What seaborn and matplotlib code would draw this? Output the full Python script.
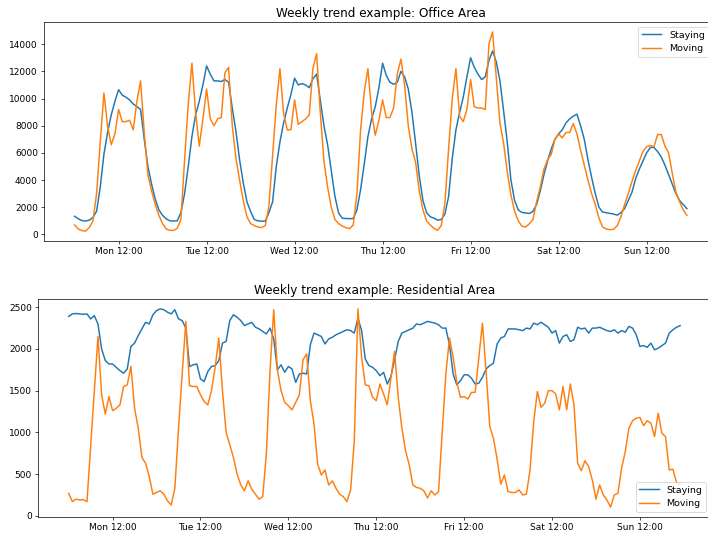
import pandas as pd
import matplotlib.pyplot as plt
import matplotlib.dates as mdates
import seaborn as sns

# hourly values, Mon 00:00 -> Sun 23:00
office_staying = [
    1340, 1150, 1020, 990, 1050, 1250, 1700, 3500, 5900, 7500, 8800, 9800, 10650, 10250, 10100, 9900, 9600, 9400, 9200, 7000, 5000, 3700, 2600, 1800,
    1400, 1150, 1000, 990, 1000, 1600, 3000, 5000, 7200, 8800, 9800, 11000, 12400, 11800, 11300, 11300, 11250, 11400, 11200, 9300, 7600, 5500, 3800, 2400,
    1700, 1100, 1000, 980, 980, 1600, 2400, 5000, 6800, 8200, 9300, 10300, 11500, 11000, 11100, 11000, 10800, 11450, 11800, 9900, 8000, 6600, 4700, 2800,
    1580, 1200, 1170, 1160, 1170, 1800, 3300, 5200, 7200, 8500, 9400, 10800, 12600, 11700, 11200, 11050, 11200, 12000, 11600, 10700, 9000, 6700, 4300, 2500,
    1600, 1300, 1200, 1050, 1100, 1500, 2800, 5600, 7700, 8970, 10100, 11600, 13000, 12300, 11800, 11400, 11600, 12800, 13500, 12700, 11300, 9100, 6800, 4000,
    2500, 1800, 1620, 1580, 1540, 1700, 2200, 3200, 4400, 5400, 6300, 7000, 7400, 7700, 8200, 8500, 8700, 8850, 8000, 7000, 5500, 4200, 3000, 2000,
    1650, 1600, 1550, 1500, 1420, 1600, 1900, 2500, 3100, 4100, 4800, 5400, 6000, 6400, 6400, 6100, 5700, 5100, 4400, 3700, 3000, 2500, 2200, 1900,
]
office_moving = [
    700, 400, 280, 250, 500, 1000, 3000, 6800, 10400, 8000, 6600, 7400, 9200, 8300, 8300, 8400, 7700, 9800, 11300, 7500, 4400, 3200, 2200, 1400,
    800, 400, 300, 300, 450, 1100, 5500, 9600, 12600, 9000, 6500, 8500, 10700, 8500, 8000, 8500, 8600, 11900, 12300, 8000, 5600, 4000, 2500, 1300,
    800, 650, 550, 500, 650, 2100, 5800, 9500, 12200, 8900, 7700, 7700, 9900, 8100, 8300, 8500, 8800, 12200, 13300, 9000, 5400, 3500, 2000, 1100,
    800, 620, 500, 420, 700, 3000, 7700, 10500, 12200, 9000, 7300, 8400, 9900, 8600, 8600, 9300, 11800, 12900, 11000, 8000, 6300, 5300, 3200, 1800,
    1000, 700, 450, 300, 650, 2300, 6300, 10000, 12200, 8700, 8300, 9200, 11400, 9400, 9300, 9300, 9200, 14000, 14900, 11500, 8200, 6700, 4600, 2900,
    1700, 1000, 600, 550, 780, 1100, 2400, 3500, 4800, 5500, 5900, 7000, 7400, 7100, 7500, 7500, 8150, 7400, 6200, 5100, 4000, 3000, 2200, 1200,
    550, 400, 350, 380, 650, 1300, 2200, 3000, 3900, 4700, 5400, 6100, 6450, 6550, 6450, 7350, 7350, 6500, 6000, 4500, 3100, 2400, 1800, 1400,
]
res_staying = [
    2390, 2420, 2425, 2420, 2415, 2420, 2360, 2400, 2300, 2000, 1860, 1820, 1820, 1780, 1740, 1710, 1760, 2030, 2070, 2160, 2240, 2320, 2300, 2410,
    2460, 2480, 2470, 2440, 2420, 2470, 2360, 2340, 2250, 1790, 1810, 1820, 1640, 1610, 1730, 1790, 1800, 1860, 2070, 2090, 2340, 2410, 2380, 2340,
    2280, 2300, 2320, 2260, 2240, 2210, 2180, 2250, 2120, 1750, 1810, 1720, 1790, 1760, 1600, 1700, 1710, 1700, 2050, 2190, 2170, 2150, 2060, 2120,
    2140, 2170, 2190, 2210, 2230, 2220, 2190, 2370, 2220, 1880, 1800, 1780, 1740, 1680, 1720, 1580, 1670, 1870, 2090, 2190, 2210, 2230, 2250, 2300,
    2290, 2310, 2330, 2320, 2310, 2290, 2250, 2250, 2050, 1700, 1570, 1620, 1690, 1690, 1650, 1580, 1590, 1660, 1760, 1800, 1830, 2060, 2130, 2150,
    2240, 2240, 2240, 2230, 2220, 2250, 2240, 2310, 2290, 2320, 2290, 2260, 2190, 2220, 2070, 2150, 2170, 2090, 2110, 2260, 2240, 2250, 2190, 2250,
    2250, 2260, 2240, 2220, 2210, 2230, 2190, 2220, 2200, 2270, 2250, 2170, 2030, 2040, 2020, 2070, 1990, 2010, 2040, 2070, 2190, 2230, 2260, 2280,
]
res_moving = [
    270, 170, 200, 190, 195, 170, 830, 1490, 2150, 1450, 1220, 1430, 1260, 1290, 1330, 1550, 1570, 1790, 1290, 1050, 700, 630, 470, 260,
    280, 300, 260, 180, 130, 330, 1050, 1700, 2330, 1560, 1550, 1550, 1450, 1370, 1330, 1500, 1780, 2130, 1500, 1000, 850, 700, 500, 370,
    300, 420, 320, 260, 200, 230, 750, 1750, 2470, 1750, 1500, 1360, 1320, 1270, 1360, 1450, 1870, 1940, 1380, 1100, 620, 490, 550, 370,
    420, 330, 260, 230, 170, 310, 900, 2480, 1900, 1570, 1560, 1420, 1380, 1580, 1460, 1330, 1650, 1970, 1420, 1050, 780, 610, 370, 340,
    330, 300, 215, 300, 250, 290, 1000, 1700, 2130, 1900, 1600, 1420, 1430, 1400, 1480, 1480, 1900, 2310, 1730, 1070, 930, 680, 380, 490,
    290, 280, 280, 310, 250, 260, 550, 1130, 1490, 1300, 1350, 1500, 1500, 1460, 1270, 1550, 1270, 1580, 1330, 630, 540, 660, 590, 430,
    200, 370, 250, 190, 105, 250, 270, 570, 770, 1050, 1140, 1170, 1180, 1080, 1140, 1110, 950, 1230, 990, 950, 550, 560, 400, 380,
]

times = pd.date_range('2020-03-02 00:00', periods=168, freq='h')

dpi = 62.6
fig = plt.figure(figsize=(708 / dpi, 540 / dpi), dpi=dpi)
ax_top = fig.add_axes([0.0621, 0.5537, 0.9514, 0.4056])
ax_bot = fig.add_axes([0.0538, 0.0426, 0.9501, 0.4037])

panels = [
    (ax_top, office_staying, office_moving, 'Weekly trend example: Office Area', 'upper right', (0.994, 1)),
    (ax_bot, res_staying, res_moving, 'Weekly trend example: Residential Area', 'lower right', (1, 0)),
]

for ax, staying, moving, title, loc, anchor in panels:
    sns.lineplot(x=times, y=staying, color='#1f77b4', label='Staying', linewidth=1.7, ax=ax)
    sns.lineplot(x=times, y=moving, color='#ff7f0e', label='Moving', linewidth=1.7, ax=ax)
    ax.set_title(title, fontsize=13.8)
    ax.set_xlabel('')
    ax.set_ylabel('')
    ax.tick_params(labelsize=10.3)
    ax.xaxis.set_major_locator(mdates.HourLocator(byhour=12))
    ax.xaxis.set_major_formatter(mdates.DateFormatter('%a %H:%M'))
    ax.legend(loc=loc, bbox_to_anchor=anchor, fontsize=11)

fig.savefig('out.png', dpi=dpi)
